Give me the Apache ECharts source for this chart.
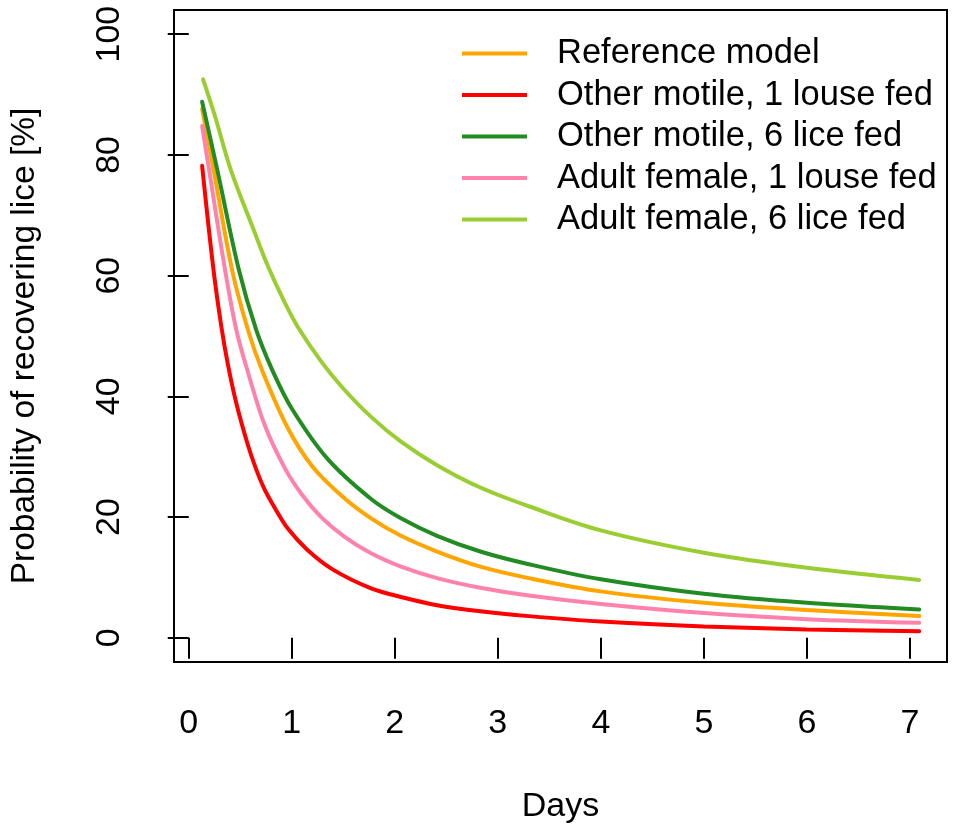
<!DOCTYPE html>
<html>
<head>
<meta charset="utf-8">
<script src="https://cdn.jsdelivr.net/npm/echarts@6/dist/echarts.min.js"></script>
<style>
html,body{margin:0;padding:0;background:#fff;}
#chart{width:954px;height:838px;}
</style>
</head>
<body>
<div id="chart"></div>
<script>
// Tick labels
const xTicks = [0, 1, 2, 3, 4, 5, 6, 7];
const yTicks = [0, 20, 40, 60, 80, 100];

// Series names
const seriesNames = [
  "Reference model",
  "Other motile, 1 louse fed",
  "Other motile, 6 lice fed",
  "Adult female, 1 louse fed",
  "Adult female, 6 lice fed"
];

// [days, probability %]
const referenceModel = [
  [0.13, 87.6], [0.24, 77.7], [0.42, 61.0], [0.575, 51.0], [0.71, 44.4],
  [0.96, 34.8], [1.2, 28.4], [1.5, 23.3], [1.77, 19.8], [2.06, 16.9],
  [2.41, 14.3], [2.83, 11.8], [3.3, 9.9], [4.0, 7.7], [5.0, 5.8],
  [6.0, 4.6], [7.09, 3.6]
];
const otherMotile1 = [
  [0.13, 78.2], [0.24, 61.0], [0.317, 51.5], [0.38, 45.3], [0.46, 39.0],
  [0.575, 31.9], [0.655, 27.9], [0.736, 24.6], [0.84, 21.4], [0.962, 18.1],
  [1.15, 14.6], [1.4, 11.3], [1.77, 8.2], [2.1, 6.6], [2.41, 5.4],
  [2.83, 4.4], [3.3, 3.6], [4.0, 2.7], [5.0, 1.9], [6.0, 1.4], [7.09, 1.1]
];
const otherMotile6 = [
  [0.13, 88.8], [0.276, 77.6], [0.486, 61.0], [0.655, 51.0], [0.81, 44.4],
  [1.0, 38.0], [1.35, 29.6], [1.77, 23.0], [2.06, 19.8], [2.41, 16.9],
  [2.83, 14.3], [3.3, 12.2], [4.0, 9.7], [5.0, 7.3], [6.0, 5.8], [7.09, 4.7]
];
const adultFemale1 = [
  [0.13, 84.8], [0.197, 77.6], [0.352, 61.0], [0.462, 51.0], [0.575, 44.0],
  [0.736, 35.3], [0.93, 28.2], [1.1, 23.7], [1.285, 20.0], [1.5, 16.9],
  [1.77, 14.0], [2.06, 11.8], [2.41, 9.9], [2.83, 8.3], [3.3, 7.0],
  [4.0, 5.6], [5.0, 4.1], [6.0, 3.1], [7.09, 2.5]
];
const adultFemale6 = [
  [0.139, 92.5], [0.255, 86.4], [0.405, 77.7], [0.639, 67.2], [0.768, 61.6],
  [0.93, 55.6], [1.059, 51.5], [1.285, 45.8], [1.5, 41.3], [1.77, 36.6],
  [2.06, 32.5], [2.41, 28.6], [2.83, 24.9], [3.3, 21.8], [4.0, 17.8],
  [5.0, 14.1], [6.0, 11.6], [7.09, 9.6]
];

const seriesData = [referenceModel, otherMotile1, otherMotile6, adultFemale1, adultFemale6];
const colors = ["#FFA500", "#FF0000", "#228B22", "#FF82AB", "#9ACD32"];

const FONT = "Liberation Sans, Arial, sans-serif";
const FS = 34;
const chart = echarts.init(document.getElementById('chart'), null, {renderer: 'canvas'});

chart.setOption({
  animation: false,
  backgroundColor: '#fff',
  grid: {
    left: 172, top: 10, width: 775, height: 652,
    show: true, borderColor: '#000', borderWidth: 2, backgroundColor: 'transparent'
  },
  legend: {
    orient: 'vertical',
    left: 457, top: 31,
    itemWidth: 65, itemHeight: 4,
    itemGap: 6.5,
    icon: 'rect',
    data: seriesNames,
    textStyle: {fontFamily: FONT, fontSize: 34.5, color: '#000', lineHeight: 34, padding: [0, 0, 0, 25]}
  },
  xAxis: {
    type: 'value', min: -0.143, max: 7.36,
    splitLine: {show: false},
    axisLine: {show: false},
    axisTick: {show: true, customValues: xTicks, length: 21, inside: false, lineStyle: {color: '#000', width: 2}},
    axisLabel: {customValues: xTicks, fontFamily: FONT, fontSize: FS, color: '#000', margin: 45},
    name: 'Days', nameLocation: 'middle', nameGap: 128,
    nameTextStyle: {fontFamily: FONT, fontSize: FS, color: '#000'}
  },
  yAxis: {
    type: 'value', min: -4, max: 104,
    splitLine: {show: false},
    axisLine: {show: false},
    axisTick: {show: true, customValues: yTicks, length: 21, inside: false, lineStyle: {color: '#000', width: 2}},
    axisLabel: {customValues: yTicks, rotate: 90, fontFamily: FONT, fontSize: FS, color: '#000', margin: 47},
    name: 'Probability of recovering lice [%]', nameLocation: 'middle', nameGap: 132, nameRotate: 90,
    nameTextStyle: {fontFamily: FONT, fontSize: 33.5, color: '#000', padding: [0, 20, 0, 0]}
  },
  series: seriesNames.map((n, i) => ({
    name: n,
    type: 'line',
    data: seriesData[i],
    showSymbol: false,
    smooth: 0.35,
    color: colors[i],
    lineStyle: {width: 4, color: colors[i], cap: 'round'},
    itemStyle: {color: colors[i]},
    z: 2 + i
  }))
});
</script>
</body>
</html>
